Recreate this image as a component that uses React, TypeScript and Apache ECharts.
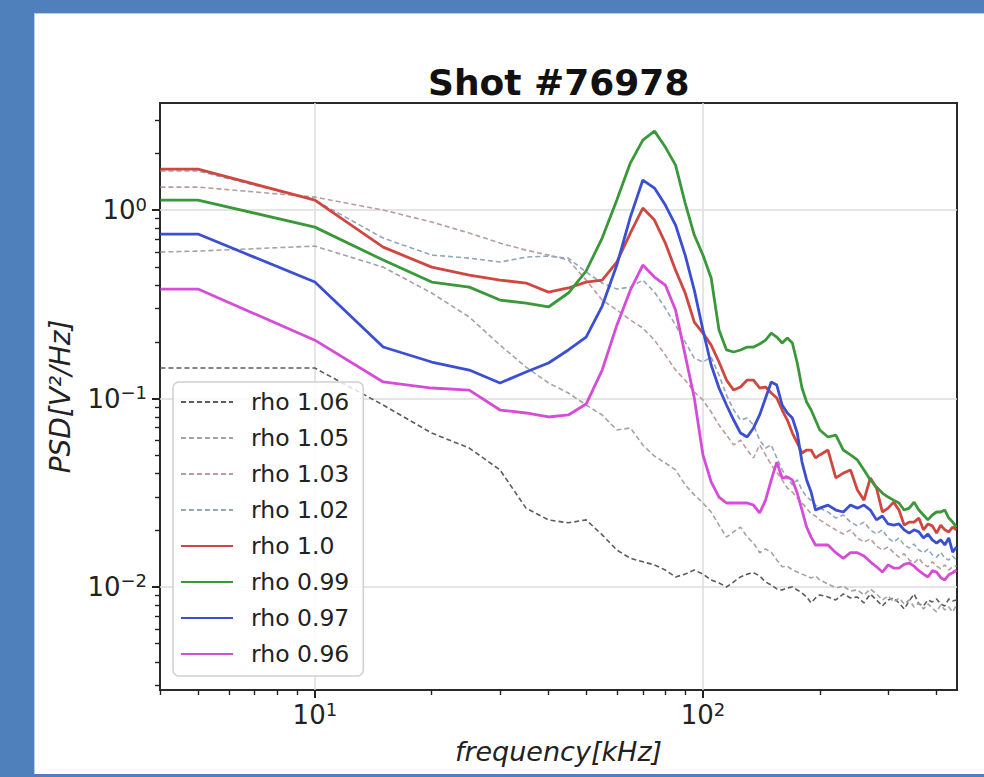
import React, { useEffect, useRef } from 'react';
import * as echarts from 'echarts';

// frequency grid (kHz)
const frequencies = [
  4, 5, 10, 15, 20, 25, 30, 35, 40, 45, 50, 55, 60, 65, 70, 75, 80, 85, 90, 95, 100,
  105, 110, 115, 120, 125, 130, 135, 140, 145, 150, 155, 160, 165, 170, 175, 180, 185, 190, 195, 200,
  210, 220, 230, 240, 250, 260, 270, 280, 290, 300, 310, 320, 330, 340, 350, 360, 370, 380, 390, 400,
  410, 420, 430, 440, 450,
];

const rho106 = [0.1451, 0.1451, 0.1451, 0.0924, 0.0656, 0.0546, 0.0418, 0.0262, 0.0227, 0.0219, 0.0227, 0.0189, 0.0157, 0.0142, 0.0136, 0.0131, 0.0123, 0.0113, 0.0117, 0.0123, 0.0117, 0.0109, 0.0105, 0.01, 0.01063, 0.0113, 0.0117, 0.0119, 0.01144, 0.01063, 0.01025, 0.00976, 0.00964, 0.00988, 0.01, 0.00964, 0.00929, 0.00885, 0.00823, 0.00874, 0.00907, 0.00885, 0.00853, 0.00918, 0.00874, 0.00885, 0.00823, 0.00918, 0.00853, 0.00793, 0.00853, 0.00874, 0.00823, 0.00764, 0.00843, 0.00918, 0.00813, 0.00793, 0.00853, 0.00833, 0.00864, 0.00813, 0.00793, 0.00864, 0.00843, 0.00853];
const rho105 = [0.599, 0.606, 0.644, 0.498, 0.363, 0.2706, 0.192, 0.1469, 0.1209, 0.107, 0.0924, 0.0818, 0.0681, 0.0698, 0.0567, 0.0495, 0.0455, 0.0418, 0.0348, 0.0308, 0.0279, 0.025, 0.0213, 0.0184, 0.0196, 0.0208, 0.0184, 0.0171, 0.0152, 0.0159, 0.0153, 0.0139, 0.0128, 0.0129, 0.0123, 0.012, 0.0117, 0.01144, 0.01116, 0.01144, 0.0109, 0.01037, 0.00988, 0.01012, 0.00953, 0.00964, 0.00907, 0.00976, 0.00918, 0.00853, 0.00896, 0.00833, 0.00874, 0.00813, 0.00853, 0.00783, 0.00823, 0.00764, 0.00813, 0.00773, 0.00737, 0.00803, 0.00755, 0.00783, 0.00737, 0.00803];
const rho103 = [1.324, 1.324, 1.172, 1.0, 0.864, 0.755, 0.668, 0.613, 0.577, 0.543, 0.425, 0.333, 0.295, 0.261, 0.2366, 0.204, 0.17, 0.1416, 0.1253, 0.1083, 0.0982, 0.0848, 0.0723, 0.064, 0.0567, 0.0602, 0.0533, 0.0484, 0.0567, 0.0502, 0.0444, 0.0407, 0.037, 0.0335, 0.0319, 0.0297, 0.0279, 0.0262, 0.0244, 0.0238, 0.0227, 0.0213, 0.0201, 0.0191, 0.0201, 0.0182, 0.0173, 0.018, 0.0165, 0.0157, 0.0163, 0.0152, 0.0144, 0.015, 0.0139, 0.0134, 0.0142, 0.0132, 0.0128, 0.0136, 0.0129, 0.0125, 0.0131, 0.0123, 0.0128, 0.0129];
const rho102 = [1.611, 1.611, 1.13, 0.71, 0.577, 0.556, 0.53, 0.563, 0.57, 0.556, 0.469, 0.41, 0.381, 0.39, 0.425, 0.367, 0.302, 0.245, 0.1994, 0.164, 0.1562, 0.166, 0.1332, 0.1043, 0.0869, 0.0769, 0.0788, 0.0723, 0.0602, 0.0546, 0.0567, 0.0484, 0.0418, 0.0379, 0.0348, 0.037, 0.0327, 0.03, 0.0289, 0.0272, 0.0262, 0.025, 0.0232, 0.0241, 0.0221, 0.0211, 0.0221, 0.0201, 0.0191, 0.0201, 0.0182, 0.0173, 0.0182, 0.0167, 0.0161, 0.0169, 0.0157, 0.0152, 0.0159, 0.0148, 0.0144, 0.0153, 0.0142, 0.0139, 0.0146, 0.0139];
const rho100 = [1.65, 1.65, 1.13, 0.636, 0.498, 0.452, 0.425, 0.41, 0.367, 0.386, 0.415, 0.425, 0.53, 0.755, 1.025, 0.885, 0.668, 0.48, 0.363, 0.2545, 0.2226, 0.192, 0.1562, 0.1253, 0.1109, 0.1151, 0.1253, 0.1253, 0.1137, 0.1151, 0.107, 0.1006, 0.0869, 0.0769, 0.0656, 0.0581, 0.0514, 0.0533, 0.0533, 0.0484, 0.0502, 0.0533, 0.0379, 0.0402, 0.0418, 0.0327, 0.0289, 0.0379, 0.0335, 0.025, 0.0262, 0.0282, 0.0256, 0.0213, 0.0221, 0.0221, 0.0232, 0.0201, 0.0216, 0.0211, 0.0193, 0.0213, 0.0201, 0.0196, 0.0208, 0.0201];
const rho099 = [1.13, 1.13, 0.812, 0.543, 0.415, 0.39, 0.333, 0.321, 0.306, 0.363, 0.475, 0.71, 1.13, 1.776, 2.35, 2.625, 2.159, 1.732, 1.089, 0.737, 0.577, 0.436, 0.231, 0.181, 0.1765, 0.181, 0.1876, 0.1876, 0.1946, 0.204, 0.2226, 0.212, 0.197, 0.2094, 0.197, 0.1543, 0.1137, 0.0958, 0.0869, 0.0769, 0.0681, 0.0625, 0.064, 0.0533, 0.0502, 0.0472, 0.0418, 0.037, 0.0339, 0.0315, 0.03, 0.0289, 0.0279, 0.0256, 0.0262, 0.0282, 0.0256, 0.0241, 0.0227, 0.0241, 0.025, 0.025, 0.0256, 0.0232, 0.0221, 0.0208];
const rho097 = [0.746, 0.746, 0.415, 0.1876, 0.1562, 0.1416, 0.1209, 0.1382, 0.1543, 0.181, 0.212, 0.3095, 0.511, 0.918, 1.443, 1.308, 1.063, 0.833, 0.577, 0.376, 0.231, 0.1506, 0.1137, 0.0924, 0.0769, 0.0656, 0.0625, 0.0698, 0.0818, 0.1006, 0.1224, 0.1179, 0.0924, 0.0838, 0.0788, 0.0656, 0.046, 0.037, 0.0319, 0.0256, 0.0262, 0.0272, 0.0256, 0.025, 0.0272, 0.0262, 0.0272, 0.0256, 0.0227, 0.0238, 0.0216, 0.0213, 0.0216, 0.0201, 0.0193, 0.0201, 0.0196, 0.0182, 0.0191, 0.0178, 0.0171, 0.0178, 0.0167, 0.0182, 0.0153, 0.0163];
const rho096 = [0.381, 0.381, 0.204, 0.1224, 0.1137, 0.1109, 0.0869, 0.0838, 0.0798, 0.0818, 0.0935, 0.1416, 0.245, 0.376, 0.511, 0.441, 0.4, 0.295, 0.17, 0.1006, 0.0502, 0.0361, 0.03, 0.0279, 0.0279, 0.0279, 0.0279, 0.0272, 0.0247, 0.0289, 0.037, 0.046, 0.0379, 0.0383, 0.037, 0.0315, 0.0256, 0.0208, 0.0184, 0.0167, 0.0167, 0.0167, 0.0152, 0.0142, 0.0152, 0.0152, 0.0146, 0.0136, 0.0128, 0.012, 0.0131, 0.0126, 0.0126, 0.0132, 0.0134, 0.0129, 0.0122, 0.0117, 0.0113, 0.0122, 0.012, 0.0112, 0.0109, 0.0116, 0.0119, 0.0123];

const seriesNames = ['rho 1.06', 'rho 1.05', 'rho 1.03', 'rho 1.02', 'rho 1.0', 'rho 0.99', 'rho 0.97', 'rho 0.96'];
const seriesValues = [rho106, rho105, rho103, rho102, rho100, rho099, rho097, rho096];
const seriesColors = ['#5c5c5c', '#a3a3a3', '#bb9c9c', '#93a6ba', '#d0473f', '#3a983a', '#3b4fd2', '#d64cd8'];
const seriesDashed = [true, true, true, true, false, false, false, false];

const xMajorTicks = [10, 100];
const xMinorTicks = [4, 5, 6, 7, 8, 9, 20, 30, 40, 50, 60, 70, 80, 90, 200, 300, 400];
const yMajorTicks = [0.01, 0.1, 1];
const yMinorTicks = [0.003, 0.004, 0.005, 0.006, 0.007, 0.008, 0.009, 0.02, 0.03, 0.04, 0.05, 0.06, 0.07, 0.08, 0.09, 0.2, 0.3, 0.4, 0.5, 0.6, 0.7, 0.8, 0.9, 2, 3];

const X_MIN = 3.99;
const X_MAX = 451.5;
const Y_MIN = 0.00284;
const Y_MAX = 3.7;

const FONT = 'DejaVu Sans';
const INK = '#222222';

const powLabel = (v: number) => {
  const e = Math.round(Math.log10(v));
  const s = e < 0 ? '\u2212' + String(-e) : String(e);
  return '{b|10}{s|' + s + '}';
};

const rich = {
  b: { fontFamily: FONT, fontSize: 26, color: INK, lineHeight: 30 },
  s: { fontFamily: FONT, fontSize: 18, color: INK, verticalAlign: 'top', lineHeight: 20 },
};

function buildOption() {
  const series = seriesNames.map((name, i) => ({
    type: 'line',
    name,
    xAxisIndex: 0,
    yAxisIndex: 0,
    data: frequencies.map((f, k) => [f, seriesValues[i][k]]),
    symbol: 'none',
    showSymbol: false,
    silent: true,
    z: 2 + i,
    lineStyle: {
      color: seriesColors[i],
      width: seriesDashed[i] ? 1.6 : 2.8,
      type: seriesDashed[i] ? [5, 3] : 'solid',
    },
    itemStyle: { color: seriesColors[i] },
  }));

  return {
    animation: false,
    backgroundColor: 'transparent',
    textStyle: { fontFamily: FONT },
    title: {
      text: 'Shot #76978',
      left: 428,
      top: 64,
      padding: 0,
      textStyle: { fontFamily: FONT, fontWeight: 'bold', fontSize: 36, color: '#111111' },
    },
    grid: {
      left: 160,
      top: 103,
      right: 27,
      bottom: 87,
      show: true,
      borderColor: '#2a2a2a',
      borderWidth: 2,
      backgroundColor: 'transparent',
    },
    legend: {
      orient: 'vertical',
      left: 173,
      top: 382,
      padding: [7, 14, 9, 7],
      itemWidth: 52,
      itemHeight: 14,
      itemGap: 10,
      backgroundColor: 'rgba(255,255,255,0.82)',
      borderColor: '#cfcfcf',
      borderWidth: 1.5,
      borderRadius: 6,
      itemStyle: { opacity: 0 },
      textStyle: { fontFamily: FONT, fontSize: 23.5, color: INK, lineHeight: 26, padding: [0, 0, 0, 13] },
      data: seriesNames,
    },
    xAxis: [
      {
        type: 'log',
        logBase: 10,
        min: X_MIN,
        max: X_MAX,
        position: 'bottom',
        name: 'frequency[kHz]',
        nameLocation: 'middle',
        nameGap: 48,
        nameTextStyle: { fontFamily: FONT, fontStyle: 'italic', fontSize: 27, color: INK },
        axisLine: { show: false },
        axisTick: { show: true, customValues: xMajorTicks, length: 8, lineStyle: { color: INK, width: 2 } },
        axisLabel: { show: true, customValues: xMajorTicks, formatter: powLabel, margin: 10, rich },
        splitLine: { show: true, lineStyle: { color: '#dddddd', width: 1.5 } },
      },
      {
        type: 'log',
        logBase: 10,
        min: X_MIN,
        max: X_MAX,
        position: 'bottom',
        axisLine: { show: false },
        axisLabel: { show: false },
        splitLine: { show: false },
        axisTick: { show: true, customValues: xMinorTicks, length: 5, lineStyle: { color: INK, width: 1.4 } },
      },
    ],
    yAxis: [
      {
        type: 'log',
        logBase: 10,
        min: Y_MIN,
        max: Y_MAX,
        position: 'left',
        name: 'PSD[V\u00b2/Hz]',
        nameLocation: 'middle',
        nameGap: 86,
        nameRotate: 90,
        nameTextStyle: { fontFamily: FONT, fontStyle: 'italic', fontSize: 28, color: INK },
        axisLine: { show: false },
        axisTick: { show: true, customValues: yMajorTicks, length: 8, lineStyle: { color: INK, width: 2 } },
        axisLabel: { show: true, customValues: yMajorTicks, formatter: powLabel, margin: 13, rich },
        splitLine: { show: true, lineStyle: { color: '#dddddd', width: 1.5 } },
      },
      {
        type: 'log',
        logBase: 10,
        min: Y_MIN,
        max: Y_MAX,
        position: 'left',
        axisLine: { show: false },
        axisLabel: { show: false },
        splitLine: { show: false },
        axisTick: { show: true, customValues: yMinorTicks, length: 5, lineStyle: { color: INK, width: 1.4 } },
      },
    ],
    series,
  };
}

export default function App() {
  const ref = useRef<HTMLDivElement>(null);
  useEffect(() => {
    if (!ref.current) return;
    const chart = echarts.init(ref.current, null, { renderer: 'svg' });
    chart.setOption(buildOption() as any);
    return () => chart.dispose();
  }, []);
  return (
    <div style={{ position: 'fixed', left: 0, top: 0, width: 984, height: 777, background: '#4f80bc', overflow: 'hidden' }}>
      <div style={{ position: 'absolute', left: 34, top: 13, width: 950, height: 760, background: '#ffffff', borderTop: '1px solid #b9cfe8', borderLeft: '1px solid #b9cfe8' }} />
      <div ref={ref} style={{ position: 'absolute', left: 0, top: 0, width: 984, height: 777 }} />
    </div>
  );
}
